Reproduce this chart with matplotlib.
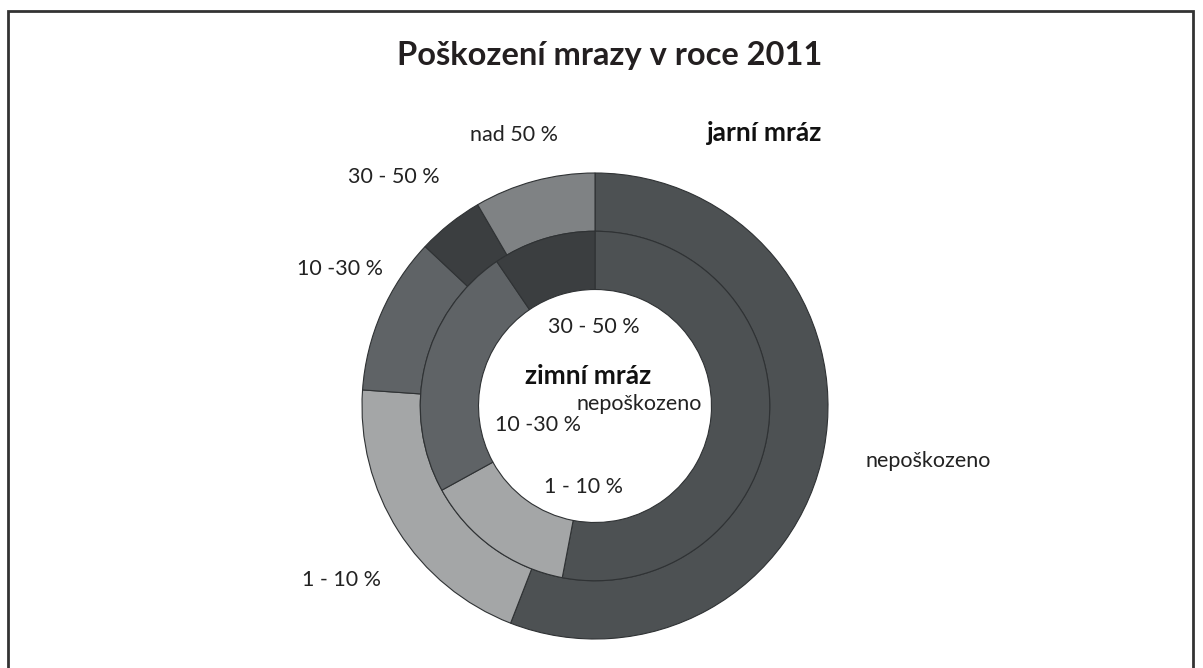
import matplotlib
matplotlib.use("Agg")
import matplotlib.pyplot as plt
from matplotlib.patches import Rectangle

plt.rcParams["font.family"] = ["Lato", "DejaVu Sans"]

# data (share of trees, %)
outer_labels = ["nepoškozeno", "1 - 10 %", "10 -30 %", "30 - 50 %", "nad 50 %"]
jarni_mraz = [55.9, 20.2, 10.9, 4.6, 8.4]
outer_colors = ["#4d5153", "#a4a6a7", "#5f6366", "#3b3e40", "#7f8284"]

inner_labels = ["nepoškozeno", "1 - 10 %", "10 -30 %", "30 - 50 %"]
zimni_mraz = [53.0, 14.0, 23.5, 9.5]
inner_colors = ["#4d5153", "#a4a6a7", "#5f6366", "#3b3e40"]

W, H = 1203, 668
cx, cy, r = 595, 406, 233


def px(x, y):
    # pixel position in the picture -> pie axes units (radius 1)
    return (x - cx) / r, (cy - y) / r


# hand-placed label positions, picture pixels
outer_label_px = [(928, 461), (341, 580), (340, 269), (394, 177), (514, 135)]
inner_label_px = [(639, 404), (583, 487), (538, 425), (594, 327)]

fig = plt.figure(figsize=(W / 100, H / 100), dpi=100)
fig.patch.set_facecolor("white")

# frame around the chart
fig.add_artist(Rectangle((8 / W, -0.05), (1193 - 8) / W, (H - 11) / H + 0.05,
                         transform=fig.transFigure, fill=False,
                         edgecolor="#333333", linewidth=2))

ax = fig.add_axes([(cx - r) / W, (H - cy - r) / H, 2 * r / W, 2 * r / H])

edge = dict(edgecolor="#2f3234", linewidth=0.8)
ax.pie(jarni_mraz, radius=1.0, colors=outer_colors, startangle=90,
       counterclock=False, wedgeprops=dict(width=0.25, **edge))
ax.pie(zimni_mraz, radius=0.75, colors=inner_colors, startangle=90,
       counterclock=False, wedgeprops=dict(width=0.25, **edge))
ax.set_xlim(-1, 1)
ax.set_ylim(-1, 1)
ax.set_aspect("equal")
ax.axis("off")

for txt, p in zip(outer_labels + inner_labels, outer_label_px + inner_label_px):
    ax.text(*px(*p), txt, ha="center", va="center", fontsize=15.5,
            color="#222222", clip_on=False)

ax.text(*px(765, 133), "jarní mráz", ha="center", va="center", fontsize=19,
        fontweight="bold", color="#111111", clip_on=False)
ax.text(*px(588, 376), "zimní mráz", ha="center", va="center", fontsize=19,
        fontweight="bold", color="#111111", clip_on=False)

fig.text(610 / W, 1 - 56 / H, "Poškození mrazy v roce 2011", ha="center",
         va="center", fontsize=23.5, fontweight="bold", color="#231f20")

fig.savefig("out.png", dpi=100)
